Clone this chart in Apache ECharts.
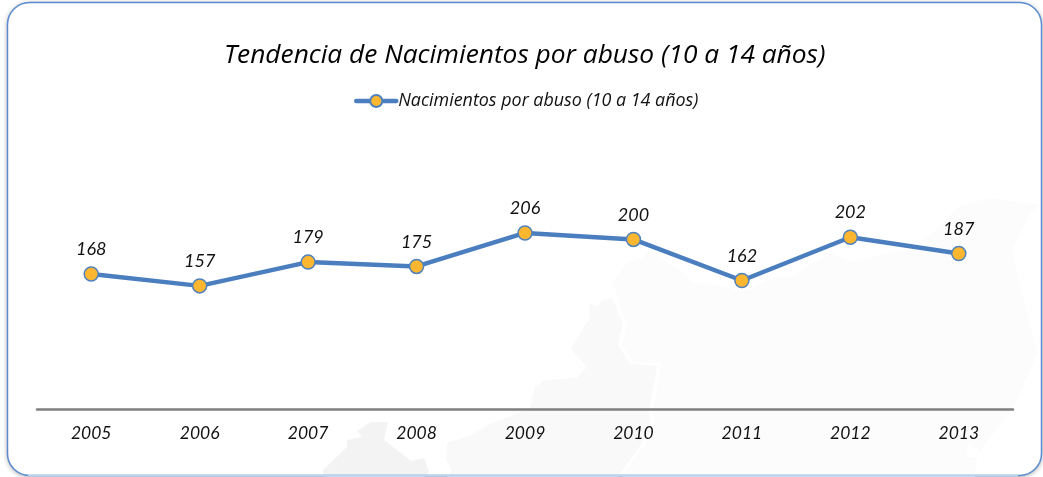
<!DOCTYPE html>
<html><head><meta charset="utf-8">
<style>html,body{margin:0;padding:0;background:#fff}#c{width:1043px;height:477px}</style>
<script src="https://cdn.jsdelivr.net/npm/echarts@6/dist/echarts.min.js"></script>
</head><body><div id="c"></div>
<script>
const titleText = 'Tendencia de Nacimientos por abuso (10 a 14 años)';
const seriesName = 'Nacimientos por abuso (10 a 14 años)';
const years = ['2005','2006','2007','2008','2009','2010','2011','2012','2013'];
const births = [168,157,179,175,206,200,162,202,187];

const chart = echarts.init(document.getElementById('c'));
const poly = (points, fill) => ({type:'polygon', silent:true, z:-10, shape:{points}, style:{fill}});
chart.setOption({
  animation:false,
  backgroundColor:'#fff',
  title:{text:titleText,left:224,top:43,padding:0,itemGap:0,
    textStyle:{fontFamily:'Open Sans',fontStyle:'italic',fontWeight:'normal',fontSize:26.3,color:'#000'}},
  legend:{top:92,left:354,padding:0,itemWidth:40,itemHeight:15,itemGap:2,
    lineStyle:{width:4.5,color:'#4a7ebf',cap:'round'},
    textStyle:{fontFamily:'Open Sans',fontStyle:'italic',fontSize:17.9,color:'#111',padding:[0,0,0,-3]}},
  grid:{left:37,right:30,top:139,bottom:68},
  xAxis:{type:'category',data:years,
    axisLine:{lineStyle:{color:'#7f7f7f',width:2.5}},axisTick:{show:false},
    axisLabel:{margin:15,fontFamily:'Lato',fontStyle:'italic',fontSize:17.5,color:'#111'}},
  yAxis:{type:'value',min:43,max:293,show:false,splitLine:{show:false}},
  series:[{name:seriesName,type:'line',data:births,symbol:'circle',symbolSize:14,
    lineStyle:{color:'#4a7ebf',width:4.5},
    itemStyle:{color:'#fdb62f',borderColor:'#4f81bd',borderWidth:1.5},
    label:{show:true,position:'top',distance:8,fontFamily:'Lato',fontStyle:'italic',fontSize:18,color:'#111'}}],
  graphic:[
    {type:'rect',silent:true,z:-20,shape:{x:7.5,y:2.5,width:1034,height:473,r:22},
      style:{fill:'#fff',shadowColor:'rgba(0,0,0,0.4)',shadowBlur:5,shadowOffsetX:0,shadowOffsetY:1}},
    poly([[612,282],[627,263],[643,258],[647,250],[680,270],[690,282],[730,288],[740,292],[753,288],[774,277],[793,277],[807,267],[830,253],[853,262],[913,247],[940,227],[957,207],[990,198],[1040,205],[1030,213],[1012,250],[1016,270],[1037,353],[1017,400],[980,452],[968,443],[966,457],[977,458],[975,477],[622,477],[655,430],[653,410],[661,363],[634,362],[622,345],[627,323],[622,313],[618,297]],'#fcfcfc'),
    poly([[589,303],[597,307],[603,300],[613,298],[618,313],[623,323],[618,345],[630,364],[657,366],[649,410],[651,430],[618,477],[447,477],[452,470],[446,460],[447,443],[471,435],[490,424],[508,417],[530,408],[535,387],[544,380],[577,378],[587,367],[571,349],[590,317]],'#f9f9f9'),
    poly([[371,422],[388,422],[384,440],[411,461],[424,458],[429,472],[424,477],[323,477],[323,470],[347,447],[347,440],[362,437],[357,431]],'#f3f3f3'),
    {type:'rect',silent:true,z:-5,shape:{x:7.5,y:2.5,width:1034,height:473,r:22},
      style:{fill:'none',stroke:'#5b8bd0',lineWidth:1.5}},
    {type:'line',silent:true,z:-4,shape:{x1:28,y1:475.5,x2:1018,y2:475.5},
      style:{stroke:'#bcd4ec',lineWidth:2}}
  ]
});
</script></body></html>
